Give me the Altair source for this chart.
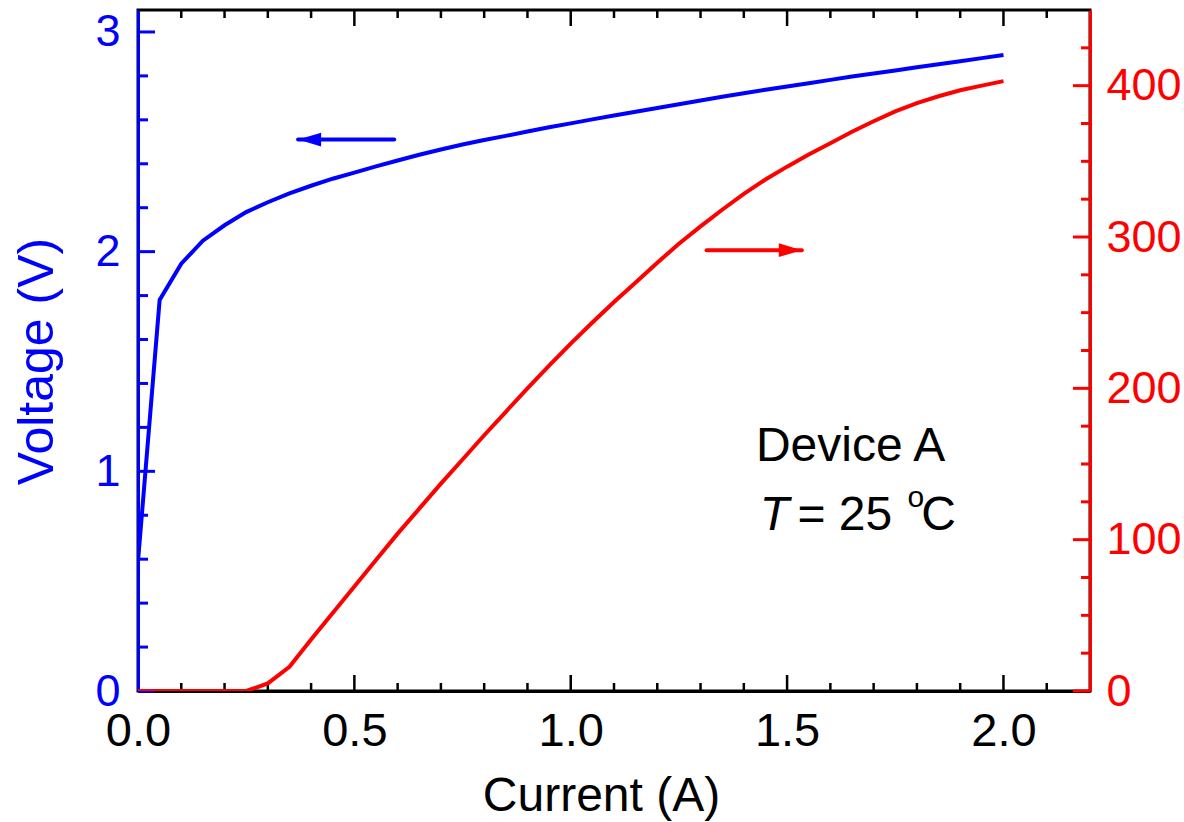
import altair as alt
import pandas as pd

# Measured characteristics of Device A at 25 C
current = [0.00, 0.05, 0.10, 0.15, 0.20, 0.25, 0.30, 0.35, 0.40, 0.45,
           0.50, 0.55, 0.60, 0.65, 0.70, 0.75, 0.80, 0.85, 0.90, 0.95,
           1.00, 1.05, 1.10, 1.15, 1.20, 1.25, 1.30, 1.35, 1.40, 1.45,
           1.50, 1.55, 1.60, 1.65, 1.70, 1.75, 1.80, 1.85, 1.90, 1.95, 2.00]
voltage = [0.59, 1.78, 1.945, 2.05, 2.12, 2.18, 2.225, 2.265, 2.30, 2.332,
           2.36, 2.388, 2.415, 2.441, 2.465, 2.488, 2.508, 2.527, 2.547, 2.566,
           2.584, 2.602, 2.620, 2.637, 2.654, 2.671, 2.688, 2.705, 2.721, 2.737,
           2.752, 2.767, 2.782, 2.797, 2.811, 2.825, 2.839, 2.853, 2.867, 2.881, 2.895]
power = [0, 0, 0, 0, 0, 0, 5, 16, 34, 51.5,
         69, 86.5, 104, 120.5, 137, 153, 169, 184.5, 200, 215,
         229.5, 243.5, 257, 270, 283, 295.5, 307, 318, 328.5, 338,
         346.5, 354.5, 362, 369.5, 376.5, 383, 388.5, 393, 397, 400, 403]

# Axis tick positions
x_major = [0.5, 1.0, 1.5, 2.0]
x_minor = [0.1, 0.2, 0.3, 0.4, 0.6, 0.7, 0.8, 0.9, 1.1, 1.2, 1.3, 1.4,
           1.6, 1.7, 1.8, 1.9, 2.1]
v_major = [0, 1, 2, 3]
v_minor = [0.2, 0.4, 0.6, 0.8, 1.2, 1.4, 1.6, 1.8, 2.2, 2.4, 2.6, 2.8]
p_major = [0, 100, 200, 300, 400]
p_minor = [25, 50, 75, 125, 150, 175, 225, 250, 275, 325, 350, 375, 425]

# Arrow pointers (current range, level on own axis)
v_arrow = {"from": [0.592], "to": [0.370], "level": [2.51]}
p_arrow = {"from": [1.314], "to": [1.534], "level": [291.3]}

# Annotation text anchors (current, voltage)
notes_plain = {"text": ["Device A", "= 25", "C"],
               "current": [1.428, 1.524, 1.810],
               "voltage": [1.046, 0.732, 0.732]}
notes_italic = {"text": ["T"], "current": [1.437], "voltage": [0.732]}
notes_small = {"text": ["o"], "current": [1.778], "voltage": [0.837]}

BLUE = "#0000ff"
RED = "#ff0000"
FONT = "Liberation Sans"
W, H = 952, 681

curves = pd.DataFrame({"current": current, "voltage": voltage, "power": power})

xscale = alt.Scale(domain=[0, 2.2], nice=False, zero=False)
vscale = alt.Scale(domain=[0, 3.1], nice=False)
pscale = alt.Scale(domain=[0, 450], nice=False)

xaxis = alt.Axis(
    orient="bottom", values=[0, 0.5, 1.0, 1.5, 2.0], format=".1f",
    grid=False, ticks=False, tickSize=0, domainColor="black", domainWidth=3,
    labelColor="black", labelFont=FONT, labelFontSize=47, labelPadding=54,
    labelBaseline="alphabetic", labelFlush=False, labelOverlap=False,
    title="Current (A)", titleFont=FONT, titleFontSize=48,
    titleFontWeight="normal", titleColor="black", titleX=463, titleY=119,
    titleBaseline="alphabetic", titleAlign="center",
)
vaxis = alt.Axis(
    orient="left", values=[0, 1, 2, 3], format="d",
    grid=False, ticks=False, tickSize=0, domainColor=BLUE, domainWidth=3,
    labelColor=BLUE, labelFont=FONT, labelFontSize=45, labelPadding=18,
    labelBaseline="middle", labelFlush=False, labelOverlap=False,
    title="Voltage (V)", titleFont=FONT, titleFontSize=50,
    titleFontWeight="normal", titleColor=BLUE, titleAngle=270,
    titleX=-86, titleY=351, titleBaseline="alphabetic", titleAlign="center",
)
paxis = alt.Axis(
    orient="right", values=[0, 100, 200, 300, 400], format="d",
    grid=False, ticks=False, tickSize=0, domainColor=RED, domainWidth=3,
    labelColor=RED, labelFont=FONT, labelFontSize=45, labelPadding=16,
    labelBaseline="middle", labelFlush=False, labelOverlap=False, title="",
)

X = lambda f: alt.X(f, type="quantitative", scale=xscale, axis=xaxis)
YV = lambda f: alt.Y(f, type="quantitative", scale=vscale, axis=vaxis)
YP = lambda f: alt.Y(f, type="quantitative", scale=pscale, axis=paxis)

# ---- voltage side ----
v_line = alt.Chart(curves).mark_line(color=BLUE, strokeWidth=4, clip=True).encode(
    x=X("current"), y=YV("voltage"))


def x_ticks(vals, length):
    df = pd.DataFrame({"tick": vals})
    bottom = alt.Chart(df).mark_rule(color="black", strokeWidth=2.5).encode(
        x=X("tick"), y=alt.value(H), y2=alt.value(H - length))
    top = alt.Chart(df).mark_rule(color="black", strokeWidth=2.5).encode(
        x=X("tick"), y=alt.value(0), y2=alt.value(length))
    return [bottom, top]


def v_ticks(vals, length):
    df = pd.DataFrame({"tick": vals})
    return alt.Chart(df).mark_rule(color=BLUE, strokeWidth=3).encode(
        y=YV("tick"), x=alt.value(0), x2=alt.value(length))


def p_ticks(vals, length):
    df = pd.DataFrame({"tick": vals})
    return alt.Chart(df).mark_rule(color=RED, strokeWidth=3).encode(
        y=YP("tick"), x=alt.value(W), x2=alt.value(W - length))


va = pd.DataFrame(v_arrow)
v_shaft = alt.Chart(va).mark_rule(color=BLUE, strokeWidth=4, strokeCap="round").encode(
    x=X("from"), x2=alt.X2("to"), y=YV("level"))
v_head = alt.Chart(va).mark_point(
    shape="M-1,0L1,-0.6L1,0.6Z", filled=True, opacity=1, color=BLUE,
    size=530, strokeWidth=0, xOffset=11.5).encode(x=X("to"), y=YV("level"))


def notes(d, size, style):
    return alt.Chart(pd.DataFrame(d)).mark_text(
        font=FONT, fontSize=size, fontStyle=style, color="black",
        align="left", baseline="alphabetic").encode(
        x=X("current"), y=YV("voltage"), text="text:N")


left = alt.layer(
    *x_ticks(x_major, 16), *x_ticks(x_minor, 8),
    v_ticks(v_major, 17), v_ticks(v_minor, 10),
    v_line, v_shaft, v_head,
    notes(notes_plain, 48, "normal"), notes(notes_italic, 48, "italic"),
    notes(notes_small, 30, "normal"),
)

# ---- power side ----
p_line = alt.Chart(curves).mark_line(color=RED, strokeWidth=4, clip=True).encode(
    x=X("current"), y=YP("power"))

pa = pd.DataFrame(p_arrow)
p_shaft = alt.Chart(pa).mark_rule(color=RED, strokeWidth=4, strokeCap="round").encode(
    x=X("from"), x2=alt.X2("to"), y=YP("level"))
p_head = alt.Chart(pa).mark_point(
    shape="M1,0L-1,-0.6L-1,0.6Z", filled=True, opacity=1, color=RED,
    size=530, strokeWidth=0, xOffset=-11.5).encode(x=X("to"), y=YP("level"))

right = alt.layer(p_ticks(p_major, 17), p_ticks(p_minor, 9), p_line, p_shaft, p_head)

chart = (
    alt.layer(left, right)
    .resolve_scale(y="independent")
    .properties(
        width=W, height=H,
        padding={"left": 138, "top": 10, "right": 94, "bottom": 131},
        autosize=alt.AutoSizeParams(type="none"),
        background="white",
    )
    .configure_view(stroke="black", strokeWidth=3)
)

chart.save("out.html", embed_options={"renderer": "svg", "actions": False})
